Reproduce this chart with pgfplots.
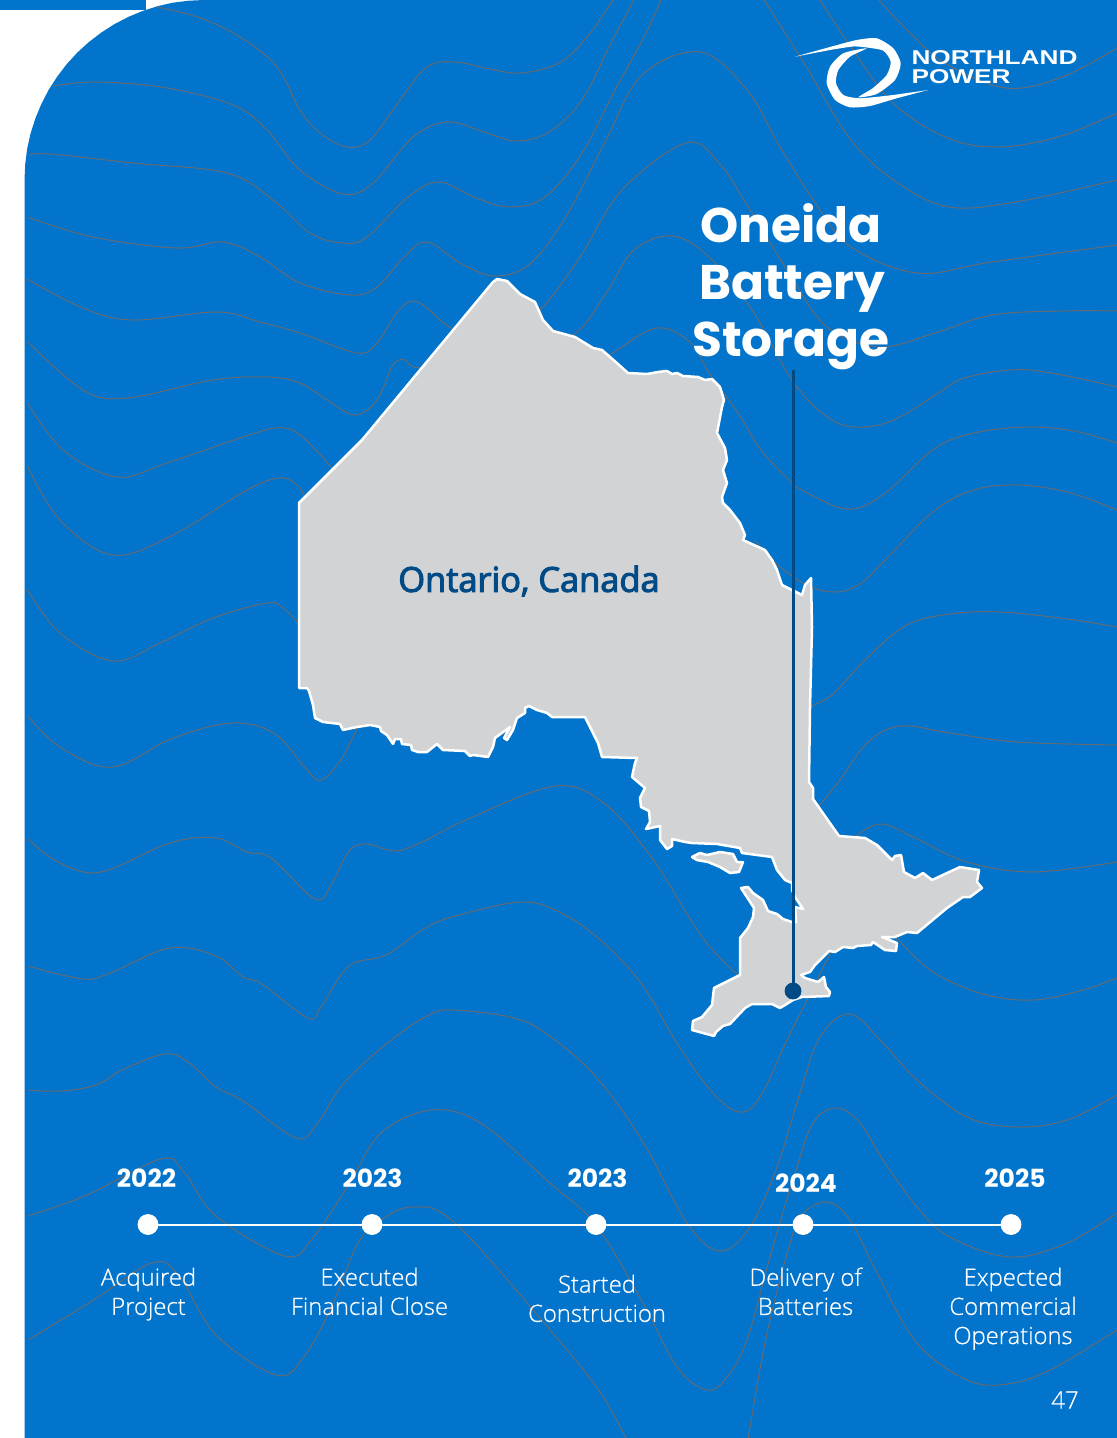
\documentclass[border=0pt]{standalone}
\usepackage{fontspec}
\usepackage{pgfplots}
\pgfplotsset{compat=1.18}
\setmainfont{Open Sans}
\newfontfamily\bodyfont[FakeBold=0.6]{Open Sans Light}
\newfontfamily\mapfont[FakeBold=3]{Open Sans}
\newfontfamily\headfontbase{Poppins}
\newcommand\headfont{\headfontbase\bfseries}
\newfontfamily\logofontbase{Liberation Sans}
\newcommand\logofont{\logofontbase\bfseries}
\definecolor{pageblue}{HTML}{0274CC}
\definecolor{wavegray}{HTML}{676A6E}
\definecolor{navy}{HTML}{004A86}
\definecolor{land}{HTML}{D1D3D4}
\pgfplotsset{
  bgline/.style={color=wavegray, line width=0.5pt, smooth, tension=0.6, no markers, forget plot},
}
\tikzset{
  yearlabel/.style={text=white, font=\headfont\fontsize{12.5}{14}\selectfont, anchor=center},
  steplabel/.style={text=white, font=\bodyfont\fontsize{11.9}{14.6}\selectfont, align=center, anchor=north},
  titlelabel/.style={text=white, font=\headfont\fontsize{24.3}{28}\selectfont, anchor=base},
  logolabel/.style={text=white, anchor=base west, inner sep=0pt, font=\logofont\fontsize{10}{12}\selectfont, xscale=1.31},
}
\begin{document}
\begin{tikzpicture}
\begin{axis}[
  scale only axis, width=558.5pt, height=719pt,
  xmin=0, xmax=1117, ymin=0, ymax=1438, y dir=reverse,
  axis line style={draw=none}, ticks=none, clip=true,
]
% page
\addplot[fill=white, draw=none, forget plot] coordinates {(0,0)(1117,0)(1117,1438)(0,1438)} --cycle;
\addplot[fill=pageblue, draw=none, forget plot] coordinates {(0,0)(146,0)(146,10)(0,10)} --cycle;
\addplot[fill=pageblue, draw=none, forget plot] coordinates {
  (24.5,1438)(24.5,180)(25.2,164.3)(27.2,148.7)(30.6,133.4)(35.4,118.4)(41.4,103.9)(48.6,90)(57.1,76.8)(66.6,64.3)(77.2,52.7)
  (88.8,42.1)(101.3,32.6)(114.5,24.1)(128.4,16.9)(142.9,10.9)(157.9,6.1)(172.8,2.7)(188.8,0.7)(204.5,0)(1117,0)(1117,1438)} --cycle;

% background waves, left to right (split where they run behind the map)
\addplot[bgline] coordinates {(157,7)(200,18)(240,37)(277,67)(300,110)(320,133)(347,147)(370,140)(400,100)(427,67)(455,62)(490,69)(521,73)(559,63)(587,37)(613,0)};
\addplot[bgline] coordinates {(53,86)(97,82)(167,88)(233,105)(267,130)(300,170)(343,194)(373,183)(413,137)(448,122)(484,132)(516,141)(549,132)(582,100)(611,43)(634,0)};
\addplot[bgline] coordinates {(29,155)(50,154)(133,163)(227,173)(273,200)(310,233)(343,243)(367,237)(408,197)(439,182)(474,197)(509,207)(545,197)(582,153)(615,90)(644,37)(661,0)};
\addplot[bgline] coordinates {(27,217)(93,237)(177,248)(223,242)(260,257)(300,283)(350,295)(377,287)(404,257)(427,242)(460,263)(495,276)(531,263)(568,213)(606,140)(642,75)(700,52)(747,90)(780,147)(818,207)(851,247)(917,273)(992,262)(1117,245)};
\addplot[bgline] coordinates {(27,279)(83,308)(133,320)(217,312)(260,322)(300,333)(357,353)(377,343)(399,310)(418,302)(451,328)(495,345)(540,310)(580,257)(622,190)(686,143)(719,163)(752,213)(789,273)(827,327)(879,347)(935,333)(992,315)(1062,311)(1117,311)};
\addplot[bgline] coordinates {(27,341)(83,390)(127,398)(213,380)(267,377)(300,383)(327,400)(355,415)(377,400)(393,365)(405,360)(420,368)(500,370)(573,335)(606,293)(634,250)(672,236)(709,257)(752,310)(794,383)(832,420)(865,427)(900,417)(940,392)(968,377)(1029,370)(1117,387)};
\addplot[bgline] coordinates {(27,402)(63,450)(117,477)(167,463)(240,438)(277,428)(300,435)(332,468)(342,482)};
\addplot[bgline] coordinates {(600,364)(613,353)(657,328)(691,343)(709,373)(738,413)(761,450)(789,480)(800,489)(847,509)(884,494)(934,449)(974,433)(1027,427)(1074,431)(1117,443)};
\addplot[bgline] coordinates {(27,465)(60,520)(113,555)(173,535)(247,490)(280,478)(297,485)(305,497)(315,512)};
\addplot[bgline] coordinates {(755,540)(772,560)(803,583)(833,592)(860,584)(890,555)(934,511)(974,490)(1017,485)(1067,492)(1117,510)};
\addplot[bgline] coordinates {(27,589)(60,633)(113,661)(160,643)(213,618)(267,603)(283,608)(298,623)(310,640)};
\addplot[bgline] coordinates {(800,712)(812,706)(833,694)(867,658)(907,625)(950,614)(1000,612)(1067,619)(1117,627)};
\addplot[bgline] coordinates {(27,715)(60,747)(112,767)(173,738)(233,723)(275,734)(307,770)(321,780)(340,761)(358,727)(366,712)};
\addplot[bgline] coordinates {(806,820)(818,807)(840,780)(867,743)(900,726)(950,733)(1017,742)(1117,745)};
\addplot[bgline] coordinates {(28,839)(60,863)(101,872)(170,843)(216,838)(247,852)(271,858)(315,899)(331,885)(349,851)(367,844)(395,851)(422,842)(468,819)(556,786)(606,805)(652,858)(689,917)(710,947)(737,974)(750,982)};
\addplot[bgline] coordinates {(845,845)(857,835)(882,824)(917,839)(967,862)(1033,872)(1117,862)};
\addplot[bgline] coordinates {(28,966)(83,979)(110,973)(170,948)(216,956)(243,977)(262,984)(308,1018)(321,1007)(349,966)(386,955)(427,927)(459,915)(523,902)(565,915)(606,945)(643,986)(677,1043)(713,1093)(740,1112)(760,1097)(787,1040)(808,998)(832,950)(840,938)};
\addplot[bgline] coordinates {(885,930)(897,939)(933,972)(983,994)(1033,1000)(1083,990)(1117,978)};
\addplot[bgline] coordinates {(28,1090)(60,1091)(96,1085)(124,1069)(165,1054)(188,1062)(216,1087)(243,1101)(296,1138)(317,1124)(344,1083)(390,1041)(427,1016)(452,1010)(514,1018)(551,1037)(597,1078)(643,1142)(687,1223)(720,1251)(750,1227)(777,1167)(800,1093)(820,1037)(850,1014)(883,1043)(917,1080)(967,1117)(1017,1127)(1067,1120)(1117,1095)};
\addplot[bgline] coordinates {(28,1216)(87,1195)(161,1159)(184,1172)(216,1216)(285,1256)(312,1239)(349,1184)(381,1133)(432,1110)(482,1124)(551,1184)(596,1225)(643,1303)(677,1367)(707,1390)(727,1377)(747,1340)(770,1257)(793,1180)(813,1123)(837,1108)(860,1123)(883,1160)(917,1207)(950,1237)(1010,1257)(1067,1243)(1117,1213)};
\addplot[bgline] coordinates {(28,1340)(92,1301)(152,1263)(179,1276)(216,1335)(276,1375)(303,1358)(331,1308)(358,1243)(381,1220)(413,1207)(455,1223)(551,1331)(600,1392)(627,1440)};
\addplot[bgline] coordinates {(748,1440)(767,1333)(793,1233)(803,1213)(827,1202)(850,1220)(877,1273)(917,1343)(967,1380)(1007,1384)(1050,1370)(1117,1330)};
\addplot[bgline] coordinates {(879,0)(907,30)(945,63)(1006,88)(1062,77)(1117,48)};
\addplot[bgline] coordinates {(820,0)(851,47)(893,103)(945,137)(996,147)(1058,137)(1117,113)};
\addplot[bgline] coordinates {(764,0)(804,63)(851,140)(898,183)(949,207)(1015,202)(1117,180)};

% Ontario
\addplot[fill=land, draw=white, line width=1.25pt, line join=round, forget plot] coordinates {
  (299,503)(362,440)(493,282)(497,279)(507,281)(520,294)(535,302)(543,320)(553,331)(575,337)(593,348)(602,350)(618,364)(628,373)
  (647,374)(658,372)(667,371)(672,374)(677,373)(683,376)(698,377)(705,380)(712,379)(720,387)(724,400)(722,407)(717,433)(725,448)
  (727,460)(723,470)(727,483)(722,497)(723,503)(730,510)(740,523)(745,535)(743,540)(765,550)(772,560)(777,570)(782,585)(792,590)
  (798,593)(802,595)(805,585)(811,578)(812,627)(810,707)(809,782)(813,788)(813,799)(839,836)(865,838)(877,845)(892,860)(895,856)
  (901,855)(904,872)(915,878)(923,873)(932,880)(960,867)(979,870)(977,882)(982,888)(970,897)(963,897)(947,908)(917,933)(907,932)
  (895,937)(882,937)(897,943)(896,951)(885,950)(873,942)(871,945)(857,946)(853,948)(843,947)(835,952)(829,951)(815,965)(810,972)
  (801,975)(805,978)(818,982)(824,977)(826,987)(830,992)(829,996)(802,997)(793,1000)(785,1005)(780,1008)(772,1004)(752,1004)(745,1008)
  (730,1024)(723,1026)(716,1032)(714,1036)(692,1030)(693,1021)(702,1017)(712,1005)(714,988)(740,975)(740,938)(748,928)(753,917)(754,908)
  (741,888)(748,887)(753,893)(763,900)(768,911)(777,914)(783,919)(792,922)(796,922)(795,907)(803,909)(795,897)(792,890)(792,883)
  (785,880)(777,870)(772,857)(742,853)(740,848)(717,844)(692,843)(685,842)(672,839)(672,846)(667,849)(660,840)(660,826)(646,829)
  (650,822)(649,811)(641,807)(640,798)(645,788)(632,777)(635,763)(637,758)(602,757)(598,743)(585,717)(552,717)(547,713)(537,710)
  (529,706)(525,708)(525,713)(517,718)(513,730)(507,740)(504,738)(510,727)(495,738)(493,747)(488,757)(473,755)(470,756)(465,751)
  (443,750)(437,744)(427,752)(418,752)(412,750)(411,745)(402,744)(401,739)(395,739)(393,744)(387,735)(381,731)(380,727)(370,725)
  (357,727)(343,730)(340,724)(323,722)(315,718)(313,705)(309,691)(307,688)(299,688)} --cycle;
% Manitoulin Island
\addplot[fill=land, draw=white, line width=1.25pt, line join=round, forget plot] coordinates {
  (692,857)(700,853)(707,855)(720,852)(733,854)(737,862)(743,862)(739,872)(730,873)(720,867)(708,862)(697,860)} --cycle;

% project pointer
\addplot[color=navy, line width=1.5pt, forget plot] coordinates {(793,370)(793,991)};
\addplot[only marks, mark=*, mark size=4pt, mark options={fill=navy, draw=navy}, forget plot] coordinates {(793,991)};

% timeline
\addplot[color=white, line width=1pt, forget plot] coordinates {(148,1224.5)(1011,1224.5)};
\addplot[only marks, mark=*, mark size=5pt, mark options={fill=white, draw=white}, forget plot] coordinates {(148,1224.5)(372,1224.5)(596,1224.5)(803,1224.5)(1011,1224.5)};

% logo swirl
\addplot[fill=white, draw=none, smooth, tension=0.4, forget plot] coordinates {
  (795,56.7)(830,47)(856.7,40)(876.7,38.3)(893.3,48.3)(900.7,63.3)(895,80)(876.7,94)(858.3,97.3)(873,88)(886.7,75)(890.7,61.7)(883.3,50.7)(866.7,47.5)(853,46.5)(830,50)} --cycle;
\addplot[fill=white, draw=none, smooth, tension=0.4, forget plot] coordinates {
  (928.3,90)(896.7,98.3)(870,106)(850,107.3)(835,100)(826.7,83.3)(830,66.7)(843.3,53.3)(866.7,48.3)(850,56.7)(838.3,70)(836,83.3)(843.3,95)(860,98.3)(893.3,95)} --cycle;

% texts
\node[logolabel] at (axis cs:911,64.5) {NORTHLAND};
\node[logolabel] at (axis cs:911,84) {POWER};

\node[titlelabel] at (axis cs:791,243) {Oneida};
\node[titlelabel] at (axis cs:792,300) {Battery};
\node[titlelabel] at (axis cs:791,357) {Storage};
\node[text=navy, font=\mapfont\fontsize{17.2}{20}\selectfont] at (axis cs:529,581) {Ontario, Canada};

\node[yearlabel] at (axis cs:146.5,1178) {2022};
\node[yearlabel] at (axis cs:372.5,1178) {2023};
\node[yearlabel] at (axis cs:597.5,1178) {2023};
\node[yearlabel] at (axis cs:806,1183) {2024};
\node[yearlabel] at (axis cs:1015,1178) {2025};

\node[steplabel] at (axis cs:148.5,1260.5) {Acquired\\Project};
\node[steplabel] at (axis cs:369.5,1260.5) {Executed\\Financial Close};
\node[steplabel] at (axis cs:597,1267.5) {Started\\Construction};
\node[steplabel] at (axis cs:805.5,1260.5) {Delivery of\\Batteries};
\node[steplabel] at (axis cs:1013,1260.5) {Expected\\Commercial\\Operations};

\node[text=white, font=\bodyfont\fontsize{12}{14}\selectfont] at (axis cs:1065,1400) {47};
\end{axis}
\end{tikzpicture}
\end{document}
